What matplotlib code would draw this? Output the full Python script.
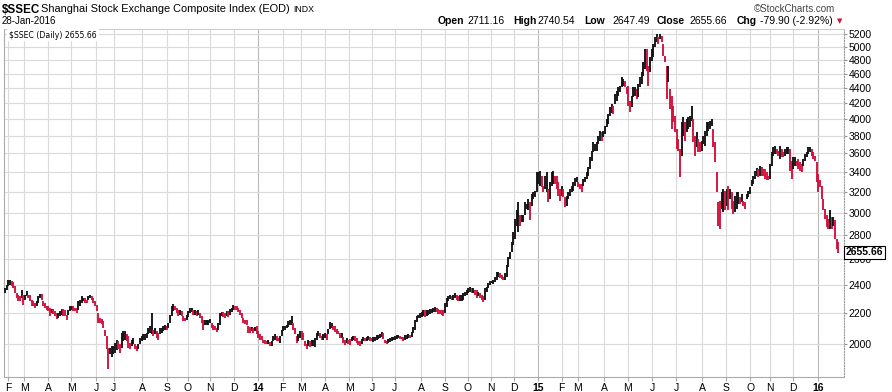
#!/usr/bin/env python3
"""
$SSEC daily bars, Feb 2013 - 28 Jan 2016 (StockCharts style)
"""

import numpy as np
import matplotlib.pyplot as plt

plt.rcParams['font.family'] = ['Liberation Sans', 'DejaVu Sans']

# ============================================================================
# 1. Data (high/low per bar, about 1.5 trading days each)
# ============================================================================

BAR_HIGH = [
    2376, 2401, 2433, 2433, 2426, 2418, 2389, 2340, 2329, 2317,
    2364, 2329, 2329, 2352, 2329, 2329, 2293, 2281, 2269, 2281,
    2317, 2336, 2336, 2281, 2269, 2246, 2246, 2235, 2228, 2228,
    2212, 2201, 2201, 2212, 2228, 2228, 2224, 2190, 2224, 2246,
    2251, 2246, 2235, 2235, 2281, 2293, 2317, 2305, 2305, 2293,
    2322, 2329, 2322, 2305, 2281, 2258, 2201, 2167, 2161, 2145,
    2091, 2049, 1977, 1977, 1991, 1991, 2008, 2028, 2018, 1998,
    2070, 2081, 2081, 2060, 2049, 2008, 2028, 2039, 1998, 1987,
    1998, 2039, 2049, 2060, 2060, 2070, 2102, 2113, 2201, 2091,
    2102, 2081, 2070, 2102, 2102, 2113, 2124, 2113, 2134,
    2190, 2246, 2264, 2251, 2235, 2224, 2224, 2212, 2178, 2167,
    2190, 2212, 2235, 2235, 2224, 2224, 2212, 2224, 2201, 2178,
    2156, 2156, 2156, 2156, 2161, 2134, 2124, 2117, 2102, 2134,
    2201, 2206, 2206, 2201, 2212, 2212, 2228, 2235, 2258, 2251,
    2246, 2235, 2224, 2201, 2167, 2156, 2152, 2113, 2108, 2108,
    2102, 2108, 2113, 2081, 2060, 2049, 2028, 2024, 2018, 2024,
    2012, 2018, 2049, 2060, 2049, 2039, 2049, 2091, 2113, 2113,
    2124, 2145, 2156, 2178, 2134, 2102, 2049, 2060, 2081, 2081,
    2070, 2018, 1998, 2024, 2018, 2028, 2024, 2039, 2070, 2081,
    2070, 2049, 2060, 2070, 2060, 2095, 2138, 2134, 2117, 2113,
    2095, 2081,
    2068, 2068, 2047, 2026, 2037, 2026, 2031, 2047, 2052, 2052,
    2037, 2016, 2016, 2031, 2047, 2037, 2047, 2052, 2047, 2037,
    2047, 2047, 2058, 2058, 2064, 2079, 2068, 2026, 2022, 2031,
    2037, 2047, 2047, 2052, 2058, 2058, 2052, 2047, 2047, 2058,
    2058, 2064, 2058, 2079, 2111, 2155, 2183, 2189, 2200, 2211,
    2223, 2218, 2223, 2218, 2227, 2227, 2234, 2245, 2234, 2227,
    2223, 2218, 2223, 2269, 2304, 2321, 2328, 2321, 2328, 2339,
    2328, 2316, 2328, 2328, 2339, 2351, 2363, 2376, 2383, 2376,
    2376, 2363, 2363, 2351, 2339, 2328, 2316, 2376, 2388, 2413,
    2432, 2432, 2437, 2462, 2501, 2501, 2488, 2475, 2457, 2488,
    2553, 2619,
    2656, 2739, 2824, 2942, 3019, 3097, 2973, 2973, 2973, 3097,
    3081, 3129, 3097, 3177, 3194, 3210, 3397, 3397, 3414, 3362,
    3260, 3362, 3397, 3227, 3294, 3397, 3414, 3362, 3362, 3294,
    3227, 3260, 3227, 3145, 3161, 3194, 3227, 3260, 3294, 3335,
    3345, 3294, 3277, 3277, 3328, 3345, 3397, 3450, 3557, 3631,
    3725, 3706, 3725, 3802, 3861, 3842, 3861, 3921, 4003, 4065,
    4149, 4192, 4170, 4323, 4368, 4413, 4436, 4551, 4528, 4504,
    4413, 4436, 4235, 4301, 4413, 4413, 4390, 4458, 4551, 4621,
    4766, 4966, 4966, 4717, 4840, 4966, 5043, 5148, 5201, 5148,
    5201, 5174, 5043, 4865, 4717, 4717, 4390, 4301, 4170, 4044,
    3881, 3763,
    3650, 3962, 4024, 3962, 4003, 4024, 4044, 4170, 4003, 3802,
    3842, 3763, 3725, 3744, 3802, 3861, 3962, 3962, 3983, 4003,
    3881, 3725, 3397, 3097, 3113, 3194, 3227, 3210, 3227, 3260,
    3227, 3194, 3113, 3161, 3194, 3194, 3145, 3177, 3113, 3097,
    3177, 3201, 3244, 3311, 3362, 3414, 3439, 3432, 3467, 3450,
    3432, 3432, 3397, 3362, 3485, 3612, 3669, 3680, 3650, 3631,
    3680, 3650, 3612, 3650, 3669, 3669, 3650, 3521, 3557, 3557,
    3521, 3539, 3503, 3485, 3539, 3594, 3612, 3669, 3669, 3650,
    3612, 3575, 3503, 3379, 3311, 3260, 3129, 3034, 2973, 2942,
    3019, 2957, 2957, 2927, 2767, 2740.54,
]

BAR_LOW = [
    2340, 2364, 2389, 2401, 2389, 2376, 2340, 2305, 2281, 2281,
    2305, 2258, 2293, 2317, 2305, 2281, 2246, 2246, 2235, 2246,
    2269, 2305, 2293, 2246, 2235, 2224, 2212, 2178, 2201, 2197,
    2178, 2161, 2167, 2178, 2190, 2183, 2178, 2156, 2190, 2212,
    2224, 2212, 2212, 2201, 2224, 2246, 2269, 2281, 2269, 2269,
    2288, 2305, 2293, 2269, 2251, 2212, 2134, 2134, 2130, 2102,
    2049, 1967, 1850, 1937, 1923, 1937, 1947, 1963, 1967, 1947,
    1977, 2018, 2028, 2018, 1977, 1967, 1987, 1998, 1967, 1957,
    1967, 1998, 2018, 2028, 2028, 2039, 2060, 2070, 2060, 2049,
    2060, 2039, 2028, 2060, 2070, 2081, 2091, 2091, 2102,
    2134, 2178, 2212, 2219, 2201, 2178, 2190, 2178, 2145, 2145,
    2156, 2174, 2201, 2206, 2190, 2190, 2178, 2190, 2167, 2134,
    2091, 2124, 2124, 2124, 2134, 2102, 2091, 2091, 2074, 2091,
    2124, 2178, 2174, 2167, 2178, 2174, 2190, 2206, 2224, 2224,
    2219, 2206, 2190, 2167, 2134, 2130, 2124, 2070, 2070, 2081,
    2070, 2081, 2060, 2039, 2028, 2024, 2008, 1998, 1998, 1998,
    1987, 1987, 2018, 2028, 2018, 2018, 2008, 2049, 2081, 2087,
    2102, 2108, 2124, 2124, 2091, 2060, 2008, 2018, 2039, 2028,
    2028, 1987, 1971, 1987, 1983, 1987, 1991, 1983, 2028, 2049,
    2039, 2024, 2028, 2039, 2028, 2060, 2095, 2102, 2087, 2074,
    2066, 2060,
    2037, 2037, 2006, 1996, 2006, 2002, 1996, 2016, 2026, 2016,
    2006, 1996, 1986, 2002, 2016, 2016, 2022, 2026, 2016, 2016,
    2010, 2016, 2026, 2031, 2037, 2047, 2031, 2006, 2002, 2006,
    2010, 2016, 2026, 2026, 2031, 2037, 2031, 2031, 2022, 2026,
    2031, 2037, 2037, 2047, 2068, 2090, 2144, 2166, 2166, 2177,
    2183, 2177, 2183, 2189, 2196, 2200, 2205, 2211, 2205, 2196,
    2196, 2189, 2183, 2200, 2245, 2281, 2297, 2292, 2292, 2304,
    2292, 2281, 2281, 2281, 2292, 2316, 2328, 2344, 2351, 2339,
    2339, 2328, 2304, 2316, 2304, 2292, 2274, 2292, 2351, 2376,
    2400, 2413, 2408, 2425, 2437, 2457, 2450, 2442, 2437, 2437,
    2462, 2540,
    2602, 2656, 2711, 2767, 2882, 2824, 2882, 2912, 2912, 2973,
    3034, 3019, 2927, 3065, 3129, 3145, 3194, 3277, 3260, 3244,
    3194, 3227, 3194, 3097, 3129, 3260, 3277, 3277, 3227, 3161,
    3113, 3161, 3145, 3050, 3065, 3129, 3161, 3194, 3210, 3260,
    3294, 3244, 3227, 3194, 3260, 3294, 3328, 3362, 3432, 3521,
    3612, 3631, 3631, 3706, 3744, 3744, 3783, 3822, 3901, 3942,
    4036, 4078, 4065, 4192, 4235, 4301, 4346, 4413, 4436, 4413,
    4323, 4170, 4086, 4149, 4279, 4301, 4257, 4279, 4413, 4458,
    4574, 4669, 4645, 4436, 4621, 4790, 4840, 4992, 5069, 5043,
    5121, 5069, 4865, 4766, 4257, 4481, 4128, 3881, 3962, 3842,
    3650, 3631,
    3345, 3575, 3802, 3744, 3842, 3881, 3901, 3983, 3725, 3575,
    3669, 3612, 3612, 3631, 3706, 3688, 3802, 3861, 3881, 3921,
    3669, 3503, 3194, 2882, 2853, 3034, 3004, 3019, 3065, 3019,
    3129, 3034, 2988, 3004, 3034, 3081, 3081, 3097, 3065, 3034,
    3129, 3145, 3177, 3260, 3277, 3328, 3362, 3345, 3362, 3362,
    3362, 3328, 3311, 3311, 3328, 3467, 3575, 3594, 3594, 3575,
    3539, 3557, 3557, 3575, 3594, 3594, 3414, 3328, 3432, 3467,
    3467, 3432, 3414, 3397, 3467, 3521, 3557, 3594, 3612, 3575,
    3539, 3521, 3294, 3194, 3244, 3129, 3019, 2942, 2868, 2853,
    2853, 2853, 2882, 2767, 2683, 2647.49,
]

# trading-day index of the last bar (28-Jan-2016), first bar = 0
LAST_DAY = 729

# trading-day index of the first session of each month
MONTH_START = [3, 17, 38, 58, 80, 95, 120, 142, 160, 179, 200, 221,
               243, 259, 280, 301, 321, 341, 364, 385, 405, 425, 445, 466,
               487, 501, 524, 545, 566, 587, 610, 631, 652, 669, 689, 711]
MONTH_LABELS = ['F', 'M', 'A', 'M', 'J', 'J', 'A', 'S', 'O', 'N', 'D', '14',
                'F', 'M', 'A', 'M', 'J', 'J', 'A', 'S', 'O', 'N', 'D', '15',
                'F', 'M', 'A', 'M', 'J', 'J', 'A', 'S', 'O', 'N', 'D', '16']

PRICE_TICKS = list(range(2000, 5201, 200))

LAST_CLOSE = 2655.66
QUOTE = [('Open', '2711.16'), ('High', '2740.54'), ('Low', '2647.49'),
         ('Close', '2655.66'), ('Chg', '-79.90 (-2.92%)')]

RED = '#d40f3c'
BLACK = '#111111'

# ============================================================================
# 2. Plotting
# ============================================================================

W, H = 892, 392
fig = plt.figure(figsize=(W / 100, H / 100), dpi=100)


def px(x, y):
    return x / W, 1 - y / H


ax = fig.add_axes([4 / W, 1 - 377 / H, 840 / W, 348 / H])

hi = np.array(BAR_HIGH, dtype=float)
lo = np.array(BAR_LOW, dtype=float)
days = np.linspace(0, LAST_DAY, len(hi))
mid = (hi + lo) / 2
down = np.r_[False, mid[1:] < mid[:-1]]
colors = np.where(down, RED, BLACK)
ax.vlines(days, lo, hi, colors=colors, linewidth=1.35, zorder=3)

ax.set_yscale('log')
ax.set_ylim(1807, 5281)
ax.set_xlim(-0.9, 734)

ax.minorticks_off()
ax.yaxis.tick_right()
ax.set_yticks(PRICE_TICKS, labels=[str(v) for v in PRICE_TICKS])
ax.set_xticks(MONTH_START, labels=MONTH_LABELS)

ax.grid(True, color='#dadada', linewidth=0.8, zorder=0)
for lab, gl, tl in zip(MONTH_LABELS, ax.get_xgridlines(), ax.get_xticklabels()):
    if lab.isdigit():
        gl.set_color('#b8b8b8')
        tl.set_fontweight('bold')

ax.tick_params(axis='x', direction='out', length=3, width=0.8, color='#aaaaaa',
               labelsize=7.5, pad=1.5)
ax.tick_params(axis='y', direction='out', length=2, width=0.8, color='#999999',
               labelsize=7.5, pad=1.5)

for side in ['left', 'bottom']:
    ax.spines[side].set_color('#aaaaaa')
ax.spines['top'].set_color('#cccccc')
ax.spines['right'].set_color('#999999')
ax.spines['right'].set_linestyle((0, (1, 1.5)))

# ---- header -----------------------------------------------------------------
fig.text(*px(2, 13), '$SSEC', fontsize=8.4, fontweight='bold', va='baseline')
fig.text(*px(41, 12), 'Shanghai Stock Exchange Composite Index (EOD)', fontsize=7.9,
         va='baseline')
fig.text(*px(293, 12), 'INDX', fontsize=6.3, va='baseline')
fig.text(*px(2, 24), '28-Jan-2016', fontsize=7, va='baseline')
fig.text(*px(835, 12), '\u00a9StockCharts.com', fontsize=7, color='#444444',
         ha='right', va='baseline')

quote_x = [(438, 467), (513, 537), (584, 612), (657, 689), (737, 760)]
for (name, val), (xl, xv) in zip(QUOTE, quote_x):
    fig.text(*px(xl, 24), name, fontsize=7.5, fontweight='bold', va='baseline')
    fig.text(*px(xv, 24), val, fontsize=7.5, va='baseline')
fig.text(*px(837, 23), '\u25bc', fontsize=5, color=RED, va='baseline',
         family='DejaVu Sans')

# legend inside plot
fig.text(*px(9, 37.5), '$SSEC (Daily) %.2f' % LAST_CLOSE, fontsize=5.6,
         family='DejaVu Sans', va='baseline',
         bbox=dict(boxstyle='square,pad=0.25', fc='white', ec='none'))

# last price tag on the right axis, drawn on top of the tick labels
fig.canvas.draw()
_, tag_y = ax.transData.transform((0, LAST_CLOSE))
fig.text(846 / W, tag_y / H, '%.2f' % LAST_CLOSE, fontsize=7.5, fontweight='bold',
         va='center', ha='left', zorder=10,
         bbox=dict(boxstyle='square,pad=0.15', fc='white', ec='black', lw=0.8))

fig.savefig('out.png', dpi=100)
print("Plot saved to out.png")
